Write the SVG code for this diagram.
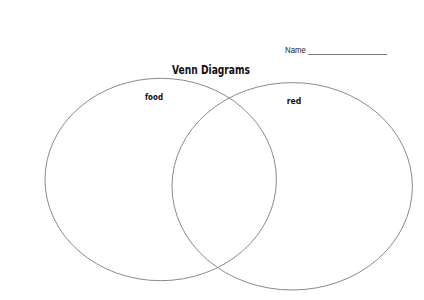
<svg xmlns="http://www.w3.org/2000/svg" width="424" height="300" viewBox="0 0 424 300">
<style>
.bg{fill:#ffffff}
.set{fill:none;stroke:#8a8a8a;stroke-width:1}
.lbl{font-family:"Comic Sans MS","DejaVu Sans","Liberation Sans",sans-serif;font-weight:bold;fill:#111}
.name{font-family:"Liberation Sans",Arial,sans-serif;font-size:9px;fill:#222}
</style>
<rect class="bg" x="0" y="0" width="424" height="300"/>
<g id="name-field">
<text class="name" x="285" y="53" textLength="21" lengthAdjust="spacingAndGlyphs">Name</text>
<line x1="308" y1="54.5" x2="387" y2="54.5" stroke="#555" stroke-width="0.8"/>
</g>
<g id="title">
<text class="lbl" x="211" y="74" font-size="12" text-anchor="middle" textLength="78" lengthAdjust="spacingAndGlyphs">Venn Diagrams</text>
</g>
<g id="set-food">
<ellipse class="set" cx="160.7" cy="179.5" rx="115.7" ry="101.2"/>
<text class="lbl" x="154" y="99.5" font-size="9" text-anchor="middle" textLength="18" lengthAdjust="spacingAndGlyphs">food</text>
</g>
<g id="set-red">
<ellipse class="set" cx="292.2" cy="186.3" rx="120.2" ry="103.7"/>
<text class="lbl" x="294" y="103.5" font-size="9" text-anchor="middle" textLength="14.5" lengthAdjust="spacingAndGlyphs">red</text>
</g>
<g id="connectors"></g>
</svg>
